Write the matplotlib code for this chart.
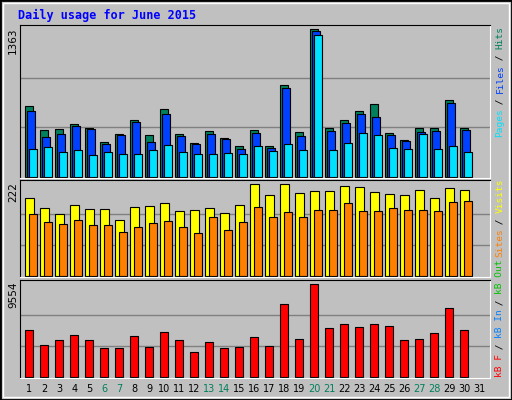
import matplotlib

matplotlib.use("Agg")
import matplotlib.pyplot as plt
from matplotlib.patches import Rectangle

days = list(range(1, 32))
weekend = {6, 7, 13, 14, 20, 21, 27, 28}

hits = [651, 429, 438, 484, 447, 318, 392, 521, 382, 623, 392, 308, 419, 355, 281,
        429, 281, 845, 410, 1363, 447, 521, 604, 669, 401, 336, 447, 447, 706, 447, 0]
files = [604, 364, 392, 466, 438, 299, 382, 503, 318, 577, 373, 299, 392, 345, 253,
         401, 262, 817, 373, 1345, 419, 493, 577, 549, 382, 327, 410, 419, 678, 429, 0]
pages = [253, 271, 225, 244, 197, 225, 207, 207, 244, 290, 225, 207, 207, 216, 207,
         281, 234, 299, 244, 1307, 244, 308, 401, 382, 262, 253, 392, 253, 281, 225, 0]
visits = [188, 164, 150, 171, 162, 162, 135, 166, 169, 176, 157, 159, 164, 152, 171,
          222, 195, 222, 200, 205, 205, 217, 215, 203, 198, 195, 207, 188, 212, 207, 0]
sites = [150, 130, 125, 135, 123, 123, 106, 118, 128, 133, 118, 104, 142, 111, 130,
         166, 142, 154, 142, 159, 159, 176, 157, 157, 164, 159, 159, 157, 178, 181, 0]
kbytes = [4847, 3278, 3801, 4324, 3801, 2964, 2964, 4219, 3069, 4638, 3801, 2546,
          3592, 2964, 3069, 4115, 3173, 7462, 3905, 9554, 5056, 5475, 5161, 5475,
          5265, 3801, 3905, 4533, 7044, 4847, 0]

BG = "#C0C0C0"
W, H = 512, 400

fig = plt.figure(figsize=(W / 100, H / 100), dpi=100, facecolor=BG)
mono = "DejaVu Sans Mono"

# outer bevel
fig.patches.append(Rectangle((0, 0), 1, 1, transform=fig.transFigure, fill=False,
                             edgecolor="black", lw=2))
fig.patches.append(Rectangle((3 / W, 3 / H), 1 - 6 / W, 1 - 6 / H, transform=fig.transFigure,
                             fill=False, edgecolor="white", lw=1))


def panel(y0, y1):
    ax = fig.add_axes([20 / W, 1 - y1 / H, 470 / W, (y1 - y0) / H])
    ax.set_facecolor(BG)
    ax.set_xlim(0, 470)
    ax.set_xticks([])
    ax.set_yticks([])
    for s in ("left", "top"):
        ax.spines[s].set_color("black")
    for s in ("right", "bottom"):
        ax.spines[s].set_color("white")
    return ax


def grid(ax, top):
    for f in (1 / 3, 2 / 3):
        ax.axhline(top * f, color="#808080", lw=1, zorder=0)


def bars(ax, vals, off, width, col):
    # skip days with no data (day 31)
    xs = [s + off for s, v in zip(starts, vals) if v > 0]
    ax.bar(xs, [v for v in vals if v > 0], width=width, align="edge", color=col,
           edgecolor="black", lw=0.8)


def vlabel(parts, x, ybottom, size=6.8):
    # stacked rotated text pieces, bottom to top
    step = 5.5
    y = ybottom
    for txt, col in parts:
        fig.text(x / W, 1 - y / H, txt, rotation=90, color=col, family=mono,
                 fontsize=size, va="bottom", ha="center")
        y -= step * len(txt)


starts = [5.3 + (d - 1) * 15 for d in days]

# top panel: hits / files / pages
ax1 = panel(25, 178)
top1 = max(hits)
ax1.set_ylim(-top1 * 0.01, top1 * 1.03)
grid(ax1, top1)
bars(ax1, hits, 0, 7.5, "#00805C")
bars(ax1, files, 2, 7.5, "#0040FF")
bars(ax1, pages, 4, 7.5, "#00E0FF")

# middle panel: visits / sites
ax2 = panel(180, 277)
top2 = max(visits)
ax2.set_ylim(-top2 * 0.01, top2 * 1.04)
grid(ax2, top2)
bars(ax2, visits, 0, 9, "#FFFF00")
bars(ax2, sites, 4, 7.5, "#FF8000")

# bottom panel: kB
ax3 = panel(280, 378)
top3 = max(kbytes)
ax3.set_ylim(-top3 * 0.01, top3 * 1.04)
grid(ax3, top3)
bars(ax3, kbytes, 0, 7.5, "#FF0000")

# day labels
for d, s in zip(days, starts):
    fig.text((20 + s + 4) / W, 1 - 389 / H, str(d), ha="center", va="center",
             fontsize=7, color="#00805C" if d in weekend else "black")

# max labels
for txt, y in (("1363", 27), ("222", 182), ("9554", 282)):
    fig.text(13 / W, 1 - y / H, txt, rotation=90, ha="center", va="top", fontsize=7.5)

vlabel([("Pages", "#00E0FF"), (" / ", "black"), ("Files", "#0040FF"), (" / ", "black"),
        ("Hits", "#00805C")], 500, 137)
vlabel([("Sites", "#FF8000"), (" / ", "black"), ("Visits", "#FFFF00")], 500, 257)
vlabel([("kB F", "#FF0000"), (" / ", "black"), ("kB In", "#0080FF"), (" / ", "black"),
        ("kB Out", "#00C000")], 500, 377)

fig.text(18 / W, 1 - 15 / H, "Daily usage for June 2015", color="#0000FF", family=mono,
         fontsize=8.5, fontweight="bold", va="center")

fig.savefig("out.png", dpi=100, facecolor=BG)
